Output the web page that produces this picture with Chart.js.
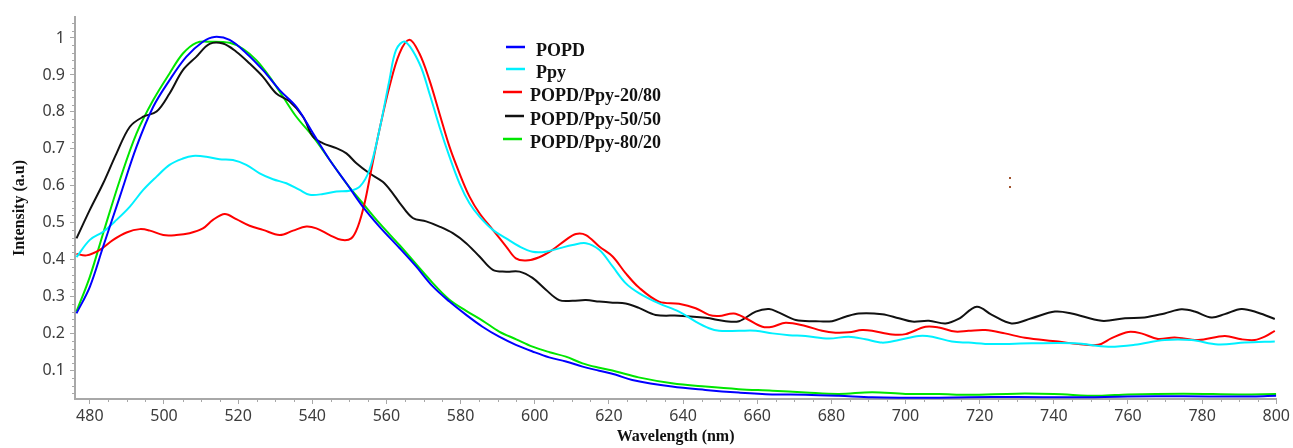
<!DOCTYPE html>
<html>
<head>
<meta charset="utf-8">
<title>Intensity vs Wavelength</title>
<script src="https://cdn.jsdelivr.net/npm/chart.js@4.4.1/dist/chart.umd.min.js"></script>
<style>
  html, body { margin: 0; padding: 0; background: #ffffff; }
  #wrap { width: 1293px; height: 448px; }
</style>
</head>
<body>
<div id="wrap"><canvas id="spectraChart" width="1293" height="448"></canvas></div>
<script>
// Tick labels
const xTickValues = [480, 500, 520, 540, 560, 580, 600, 620, 640, 660, 680, 700, 720, 740, 760, 780, 800];
const yTickValues = [0.1, 0.2, 0.3, 0.4, 0.5, 0.6, 0.7, 0.8, 0.9, 1];

// Series names
const seriesNames = ['POPD', 'Ppy', 'POPD/Ppy-20/80', 'POPD/Ppy-50/50', 'POPD/Ppy-80/20'];

// POPD (blue)
const popdWl = [476.4, 480, 483.6, 488.1, 492.6, 497.1, 501.5, 506, 510.5, 513.6, 517.7, 522.2, 526.7, 531.2, 535.7, 540.2, 544.7, 549.2, 553.6, 558.1, 563.5, 568, 572.5, 577, 581.5, 585.9, 590.4, 594.9, 599.4, 603.9, 608.4, 612.9, 617.4, 621.9, 626.3, 637, 646, 655, 664, 673, 682, 691, 700, 709, 717, 730, 745, 760, 775, 790, 800];
const popdI = [0.255, 0.327, 0.436, 0.571, 0.706, 0.814, 0.886, 0.949, 0.99, 1.003, 0.995, 0.959, 0.913, 0.859, 0.814, 0.742, 0.67, 0.607, 0.544, 0.49, 0.432, 0.382, 0.328, 0.287, 0.251, 0.219, 0.192, 0.17, 0.152, 0.136, 0.125, 0.111, 0.1, 0.089, 0.075, 0.057, 0.048, 0.041, 0.036, 0.035, 0.032, 0.028, 0.027, 0.027, 0.028, 0.029, 0.028, 0.03, 0.031, 0.03, 0.032];

// Ppy (cyan)
const ppyWl = [476.4, 480, 483.6, 487.2, 490.8, 494.4, 498, 501.5, 505.1, 507.8, 511.4, 515, 518.6, 522.2, 525.8, 529.4, 533, 536.6, 539.3, 542.9, 546.5, 550.1, 552.8, 555.4, 558.1, 560.8, 562.6, 565, 568.9, 571.6, 574.3, 577, 579.7, 582.4, 585.1, 588.7, 592.3, 595.9, 599.4, 603, 606.6, 610.2, 613.8, 617.4, 621, 624.5, 628.1, 633.5, 638.9, 643.4, 647, 649.7, 655.1, 659.6, 664.1, 668.6, 673, 679.3, 684.7, 689.2, 693.7, 698.2, 703.6, 707.2, 712.5, 717, 723.3, 734, 745.7, 754.7, 761.8, 769.9, 777.1, 784.3, 791.5, 799.6];
const ppyI = [0.407, 0.454, 0.476, 0.508, 0.544, 0.589, 0.625, 0.657, 0.674, 0.681, 0.679, 0.672, 0.67, 0.657, 0.634, 0.618, 0.607, 0.589, 0.576, 0.578, 0.585, 0.587, 0.598, 0.643, 0.751, 0.886, 0.968, 0.99, 0.931, 0.85, 0.76, 0.679, 0.607, 0.553, 0.517, 0.481, 0.458, 0.436, 0.422, 0.422, 0.431, 0.44, 0.445, 0.427, 0.382, 0.337, 0.31, 0.282, 0.26, 0.233, 0.215, 0.208, 0.208, 0.208, 0.201, 0.196, 0.194, 0.187, 0.192, 0.185, 0.176, 0.183, 0.194, 0.192, 0.179, 0.176, 0.172, 0.174, 0.174, 0.165, 0.17, 0.183, 0.183, 0.171, 0.176, 0.179];

// POPD/Ppy-20/80 (red)
const mix2080Wl = [476.4, 479.1, 482.7, 486.3, 489.9, 493.5, 496.2, 499.8, 503.3, 506.9, 510.5, 513.2, 516.4, 519.5, 523.1, 526.7, 531.2, 534.8, 538.4, 541.1, 544.7, 547.8, 550.5, 552.3, 554.1, 555.9, 558.1, 560.8, 563.5, 566.2, 568.9, 571.6, 574.3, 577, 579.7, 582.4, 585.1, 588.7, 592.3, 594.9, 597.6, 601.2, 604.8, 608.4, 611.1, 613.8, 617.4, 621, 624.5, 628.1, 633.5, 638.9, 643.4, 647, 649.7, 653.7, 656.9, 661.4, 664.1, 667.7, 673, 677.5, 681.1, 684.7, 688.3, 691, 696.4, 700, 705.4, 709, 713.4, 717, 721.5, 726.8, 732.2, 741.2, 746.6, 752, 755.6, 760.1, 763.6, 768.1, 772.6, 778.9, 786.1, 790.6, 794.2, 796.9, 799.6];
const mix2080I = [0.416, 0.412, 0.427, 0.454, 0.474, 0.483, 0.479, 0.467, 0.467, 0.472, 0.485, 0.508, 0.524, 0.51, 0.492, 0.481, 0.467, 0.479, 0.49, 0.485, 0.467, 0.454, 0.458, 0.49, 0.553, 0.643, 0.751, 0.868, 0.958, 0.995, 0.958, 0.886, 0.796, 0.706, 0.634, 0.571, 0.526, 0.481, 0.436, 0.404, 0.398, 0.407, 0.427, 0.454, 0.47, 0.467, 0.436, 0.409, 0.364, 0.325, 0.287, 0.281, 0.269, 0.251, 0.248, 0.255, 0.242, 0.219, 0.219, 0.23, 0.221, 0.208, 0.203, 0.204, 0.21, 0.208, 0.198, 0.199, 0.219, 0.217, 0.206, 0.208, 0.21, 0.201, 0.189, 0.179, 0.172, 0.17, 0.188, 0.205, 0.201, 0.186, 0.19, 0.183, 0.194, 0.185, 0.183, 0.192, 0.208];

// POPD/Ppy-50/50 (black)
const mix5050Wl = [476.4, 480, 483.6, 487.2, 490.8, 494.4, 498, 501.5, 505.1, 508.7, 512.3, 515.9, 519.5, 523.1, 526.7, 530.3, 533.9, 537.5, 540.2, 542.9, 546.5, 549.2, 551.9, 555.4, 559, 561.7, 563.5, 567.1, 570.7, 574.3, 577.9, 581.5, 585.1, 588.7, 592.3, 595.9, 599.4, 603, 606.6, 610.2, 613.8, 617.4, 621, 624.5, 628.1, 632.6, 638.9, 646.1, 651.5, 655.1, 659.6, 663.2, 665.9, 670.4, 675.8, 680.2, 683.8, 687.4, 693.7, 698.2, 701.8, 706.3, 710.8, 714.3, 719.2, 723.3, 728.6, 734, 740.3, 744.8, 752.9, 759.2, 764.5, 769.9, 774.4, 778, 782.5, 786.1, 790.6, 795.1, 799.6];
const mix5050I = [0.458, 0.535, 0.607, 0.688, 0.76, 0.787, 0.801, 0.85, 0.913, 0.949, 0.984, 0.985, 0.963, 0.931, 0.895, 0.85, 0.828, 0.787, 0.733, 0.715, 0.702, 0.688, 0.661, 0.634, 0.611, 0.58, 0.555, 0.513, 0.504, 0.49, 0.472, 0.445, 0.409, 0.373, 0.368, 0.368, 0.351, 0.319, 0.291, 0.289, 0.291, 0.287, 0.284, 0.282, 0.27, 0.251, 0.249, 0.243, 0.234, 0.234, 0.26, 0.267, 0.257, 0.237, 0.234, 0.234, 0.246, 0.255, 0.253, 0.242, 0.233, 0.235, 0.228, 0.24, 0.273, 0.251, 0.228, 0.242, 0.26, 0.255, 0.235, 0.242, 0.244, 0.255, 0.266, 0.26, 0.244, 0.253, 0.267, 0.257, 0.24];

// POPD/Ppy-80/20 (green)
const mix8020Wl = [476.4, 480, 483.6, 488.1, 492.6, 497.1, 501.5, 505.1, 508.7, 512.3, 517.7, 521.3, 524.9, 528.5, 532.1, 535.7, 540.2, 544.7, 549.2, 553.6, 558.1, 563.5, 572.5, 577, 581.5, 586, 590.4, 595, 599.4, 604, 608.4, 612.9, 617.4, 621.9, 628, 637, 646, 655, 664, 673, 682, 691, 700, 709, 717, 730, 740, 752, 760, 775, 790, 800];
const mix8020I = [0.26, 0.354, 0.472, 0.616, 0.742, 0.832, 0.904, 0.958, 0.987, 0.99, 0.987, 0.971, 0.94, 0.895, 0.841, 0.787, 0.733, 0.67, 0.607, 0.553, 0.499, 0.44, 0.337, 0.292, 0.262, 0.235, 0.206, 0.185, 0.165, 0.15, 0.138, 0.12, 0.108, 0.098, 0.082, 0.066, 0.057, 0.05, 0.046, 0.041, 0.037, 0.042, 0.037, 0.037, 0.035, 0.038, 0.037, 0.032, 0.036, 0.038, 0.036, 0.037];

const seriesColors = ['#0000ff', '#00f0ff', '#ff0000', '#111111', '#00e600'];

document.addEventListener('DOMContentLoaded', function() {
    const canvas = document.getElementById('spectraChart');
    const axisGray = '#a8a8a8';

    function toPoints(xs, ys) {
        return xs.map(function(x, i) { return { x: x, y: ys[i] }; });
    }

    const allX = [popdWl, ppyWl, mix2080Wl, mix5050Wl, mix8020Wl];
    const allY = [popdI, ppyI, mix2080I, mix5050I, mix8020I];

    const datasets = seriesNames.map(function(name, i) {
        return {
            label: name,
            data: toPoints(allX[i], allY[i]),
            borderColor: seriesColors[i],
            backgroundColor: seriesColors[i],
            borderWidth: 2,
            pointRadius: 0,
            tension: 0.35,
            fill: false
        };
    });

    // minor ticks + in-plot legend + the little stray mark
    const extrasPlugin = {
        id: 'extras',
        afterDraw: function(chart) {
            const ctx = chart.ctx;
            const xs = chart.scales.x;
            const ys = chart.scales.y;
            const area = chart.chartArea;
            ctx.save();
            ctx.strokeStyle = axisGray;
            ctx.lineWidth = 1;
            ctx.beginPath();
            for (let v = 480; v <= 800; v += 5) {
                if (v % 20 === 0) continue;
                const px = Math.round(xs.getPixelForValue(v)) + 0.5;
                ctx.moveTo(px, area.bottom);
                ctx.lineTo(px, area.bottom + 3);
            }
            for (let k = 2; k <= 52; k++) {
                if (k % 5 === 0) continue;
                const v = k * 0.02;
                if (v > ys.max) break;
                const py = Math.round(ys.getPixelForValue(v)) + 0.5;
                ctx.moveTo(area.left - 3, py);
                ctx.lineTo(area.left, py);
            }
            ctx.stroke();

            // legend
            const rows = [51, 73, 96, 120, 143];
            const lineStart = [506, 506, 503, 505, 503];
            const textStart = [536, 536, 530, 530, 530];
            ctx.font = 'bold 18px "Liberation Serif", "Times New Roman", serif';
            ctx.textBaseline = 'middle';
            ctx.textAlign = 'left';
            chart.data.datasets.forEach(function(ds, i) {
                ctx.strokeStyle = ds.borderColor;
                ctx.lineWidth = 2.5;
                ctx.beginPath();
                ctx.moveTo(lineStart[i], rows[i] - 4);
                ctx.lineTo(lineStart[i] + 19, rows[i] - 4);
                ctx.stroke();
                ctx.fillStyle = '#111111';
                ctx.fillText(ds.label, textStart[i], rows[i]);
            });

            // stray dots seen in the original figure
            ctx.fillStyle = '#a0522d';
            ctx.fillRect(1009, 177, 2, 2);
            ctx.fillRect(1009, 186, 2, 2);
            ctx.restore();
        }
    };

    new Chart(canvas, {
        type: 'line',
        data: { datasets: datasets },
        options: {
            responsive: false,
            animation: false,
            layout: { padding: { top: 17, right: 15, left: 0, bottom: 0 } },
            plugins: {
                legend: { display: false },
                tooltip: { enabled: false }
            },
            scales: {
                x: {
                    type: 'linear',
                    min: 476,
                    max: 800,
                    afterFit: function(scale) { scale.height = 49; },
                    afterBuildTicks: function(scale) {
                        scale.ticks = xTickValues.map(function(v) { return { value: v }; });
                    },
                    border: { color: axisGray, width: 2 },
                    grid: { drawOnChartArea: false, drawTicks: true, tickLength: 5, tickColor: axisGray },
                    ticks: {
                        color: '#3c3c3c',
                        font: { family: '"Noto Sans", sans-serif', size: 16 },
                        padding: 3,
                        maxRotation: 0,
                        autoSkip: false,
                        callback: function(v) { return String(v); }
                    },
                    title: {
                        display: true,
                        text: 'Wavelength (nm)',
                        color: '#111111',
                        font: { family: '"Liberation Serif", "Times New Roman", serif', size: 16, weight: 'bold' },
                        padding: { top: 0, bottom: 2 }
                    }
                },
                y: {
                    type: 'linear',
                    min: 0.0235,
                    max: 1.0568,
                    afterFit: function(scale) { scale.width = 75; },
                    afterBuildTicks: function(scale) {
                        scale.ticks = yTickValues.map(function(v) { return { value: v }; });
                    },
                    border: { color: axisGray, width: 2 },
                    grid: { drawOnChartArea: false, drawTicks: true, tickLength: 5, tickColor: axisGray },
                    ticks: {
                        color: '#3c3c3c',
                        font: { family: '"Noto Sans", sans-serif', size: 16 },
                        padding: 5,
                        callback: function(v) { return String(+v.toFixed(2)); }
                    },
                    title: {
                        display: true,
                        text: 'Intensity (a.u)',
                        color: '#111111',
                        font: { family: '"Liberation Serif", "Times New Roman", serif', size: 16, weight: 'bold' },
                        padding: { top: 10, bottom: 0 }
                    }
                }
            }
        },
        plugins: [extrasPlugin]
    });
});
</script>
</body>
</html>
